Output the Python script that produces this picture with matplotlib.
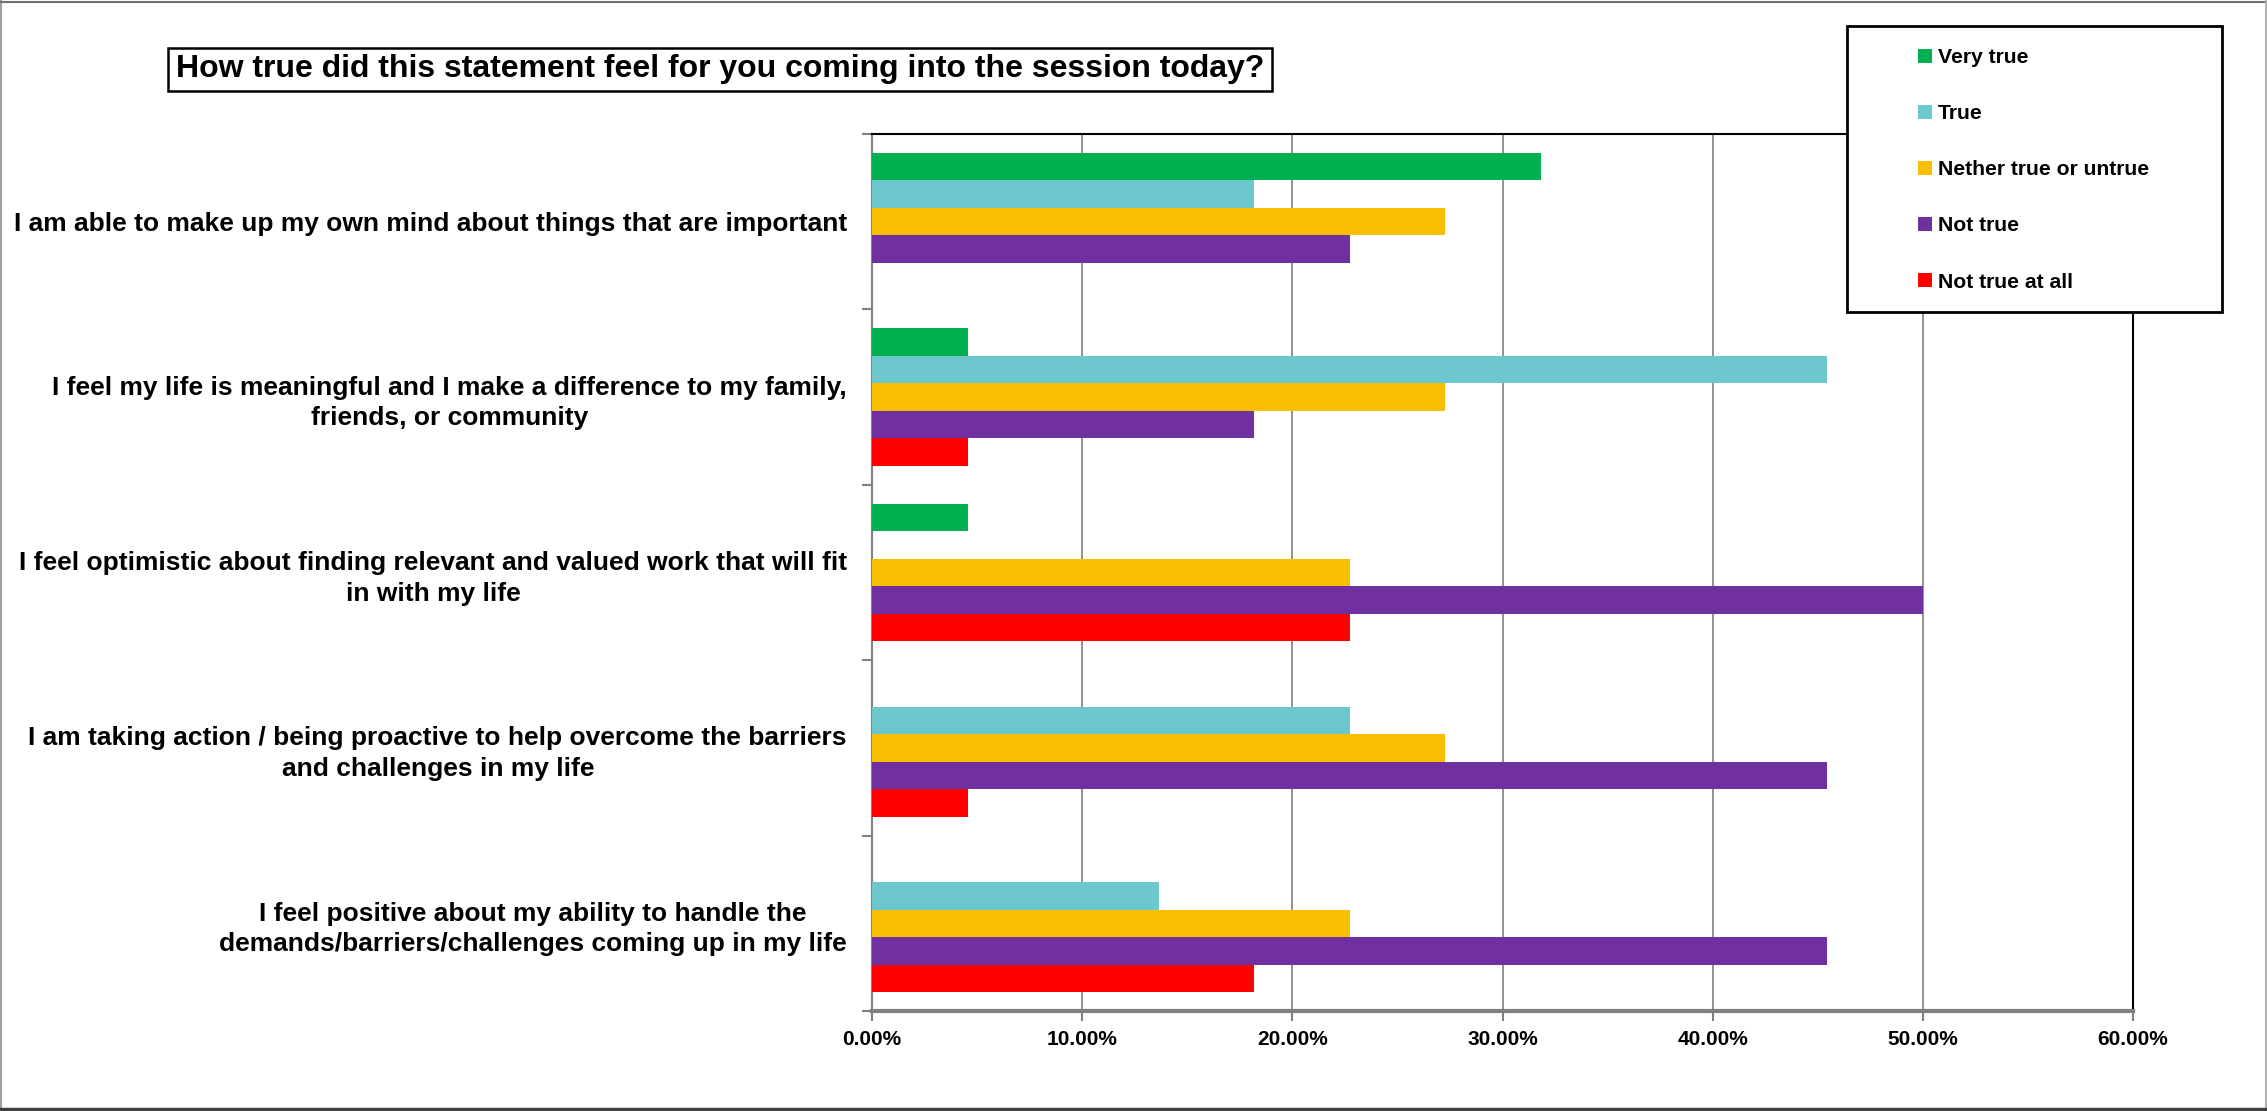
import matplotlib
matplotlib.use("Agg")
import matplotlib.pyplot as plt
from matplotlib.patches import Rectangle
from matplotlib.lines import Line2D
from matplotlib.ticker import PercentFormatter
import numpy as np

plt.rcParams['font.family'] = ['Liberation Sans', 'DejaVu Sans']
plt.rcParams['font.weight'] = 'bold'

categories = [
    "I am able to make up my own mind about things that are important",
    "I feel my life is meaningful and I make a difference to my family,\nfriends, or community",
    "I feel optimistic about finding relevant and valued work that will fit\nin with my life",
    "I am taking action / being proactive to help overcome the barriers\nand challenges in my life",
    "I feel positive about my ability to handle the\ndemands/barriers/challenges coming up in my life",
]
series_names = ["Very true", "True", "Nether true or untrue", "Not true", "Not true at all"]
very_true = [31.82, 4.55, 4.55, 0.0, 0.0]
true_vals = [18.18, 45.45, 0.0, 22.73, 13.64]
neither = [27.27, 27.27, 22.73, 27.27, 22.73]
not_true = [22.73, 18.18, 50.0, 45.45, 45.45]
not_true_at_all = [0.0, 4.55, 22.73, 4.55, 18.18]
series_values = [very_true, true_vals, neither, not_true, not_true_at_all]
colors = ["#00B050", "#6CC8CC", "#F8BE00", "#7030A0", "#FF0000"]
xticks = [0, 10, 20, 30, 40, 50, 60]

W, H = 2267, 1111
fig = plt.figure(figsize=(W / 100, H / 100), dpi=100)

ax_l, ax_r, ax_t, ax_b = 872, 2133, 134, 1011
ax = fig.add_axes([ax_l / W, 1 - ax_b / H, (ax_r - ax_l) / W, (ax_b - ax_t) / H])

n = len(series_names)
bw = 0.157
y = np.arange(len(categories))
for i, (name, vals, c) in enumerate(zip(series_names, series_values, colors)):
    ax.barh(y + (i - (n - 1) / 2) * bw, vals, height=bw, color=c, label=name,
            edgecolor='none', zorder=3)

ax.set_xlim(0, 60)
ax.set_ylim(len(categories) - 0.5, -0.5)
ax.set_xticks(xticks)
ax.xaxis.set_major_formatter(PercentFormatter(decimals=2))
ax.grid(axis='x', color='#808080', linewidth=1.2, zorder=0)
ax.set_axisbelow(True)

ax.set_yticks(np.arange(-0.5, len(categories) + 0.5, 1.0))
ax.set_yticklabels([])
ax.set_yticks(y, minor=True)
ax.set_yticklabels(categories, minor=True, fontsize=19, fontweight='bold',
                   multialignment='center', linespacing=1.35)
ax.tick_params(axis='y', which='major', length=7, width=1.5, color='#808080', direction='out')
ax.tick_params(axis='y', which='minor', length=0, pad=18)
ax.tick_params(axis='x', which='major', length=7, width=1.5, color='#808080',
               labelsize=15, pad=7)
for lab in ax.get_xticklabels():
    lab.set_fontweight('bold')

ax.spines['left'].set_color('#808080')
ax.spines['left'].set_linewidth(1.5)
ax.spines['bottom'].set_color('#808080')
ax.spines['bottom'].set_linewidth(3)
ax.spines['top'].set_color('black')
ax.spines['top'].set_linewidth(1.5)
ax.spines['right'].set_color('black')
ax.spines['right'].set_linewidth(1.5)

# Title with box
tx0, tx1, ty0, ty1 = 168, 1272, 48, 91
fig.patches.append(Rectangle((tx0 / W, 1 - ty1 / H), (tx1 - tx0) / W, (ty1 - ty0) / H,
                             transform=fig.transFigure, fill=False, edgecolor='black',
                             linewidth=1.8))
fig.text((tx0 + tx1) / 2 / W, 1 - (ty0 + ty1) / 2 / H,
         "How true did this statement feel for you coming into the session today?",
         ha='center', va='center', fontsize=23, fontweight='bold')

# Legend box
lx0, lx1, ly0, ly1 = 1847, 2222, 26, 312
fig.patches.append(Rectangle((lx0 / W, 1 - ly1 / H), (lx1 - lx0) / W, (ly1 - ly0) / H,
                             transform=fig.transFigure, facecolor='white', edgecolor='black',
                             linewidth=2, zorder=5))
handles, labels = ax.get_legend_handles_labels()
leg = fig.legend(handles, labels, loc='upper left',
                 bbox_to_anchor=(1918 / W, 1 - 48 / H), frameon=False,
                 prop={'size': 15.2, 'weight': 'bold'}, handlelength=0.65,
                 handleheight=0.65, handletextpad=0.3, labelspacing=1.76,
                 borderpad=0, borderaxespad=0)
leg.set_zorder(6)

# Figure frame
fig.add_artist(Line2D([0.5 / W, 0.5 / W], [0, 1], transform=fig.transFigure, color='#A0A0A0', lw=1.5))
fig.add_artist(Line2D([0, 1], [1 - 1.5 / H, 1 - 1.5 / H], transform=fig.transFigure, color='#707070', lw=1.5))
fig.add_artist(Line2D([1 - 1.5 / W, 1 - 1.5 / W], [0, 1], transform=fig.transFigure, color='#B0B0B0', lw=1.5))
fig.add_artist(Line2D([0, 1], [2 / H, 2 / H], transform=fig.transFigure, color='#404040', lw=2.5))

fig.savefig("out.png", dpi=100)
